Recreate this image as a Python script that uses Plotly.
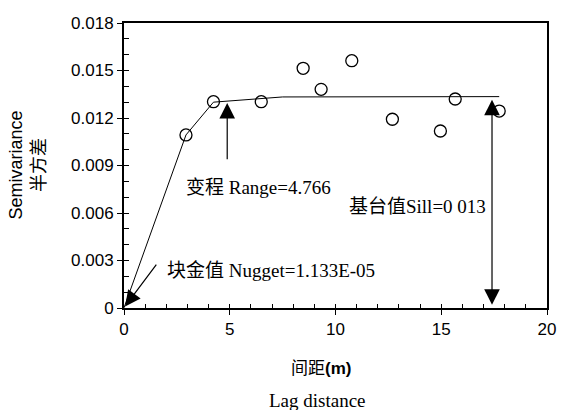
import plotly.graph_objects as go

# Data
lag = [2.93, 4.23, 6.49, 8.47, 9.32, 10.77, 12.69, 14.96, 15.66, 17.74]
gamma = [0.01093, 0.01303, 0.01303, 0.01514, 0.01381, 0.01562, 0.01192, 0.01118, 0.0132, 0.01244]
model_h = [0.0, 2.93, 4.23, 5.0, 6.5, 7.5, 17.74]
model_g = [0.0000113, 0.01093, 0.01300, 0.01308, 0.01320, 0.01333, 0.01335]
x_ticks = [0, 5, 10, 15, 20]
y_ticks = [0, 0.003, 0.006, 0.009, 0.012, 0.015, 0.018]
y_tick_labels = ["0", "0.003", "0.006", "0.009", "0.012", "0.015", "0.018"]

SERIF = "Liberation Serif, Times New Roman, Noto Sans CJK SC, serif"
SANS = "Liberation Sans, Arial, Noto Sans CJK SC, sans-serif"

fig = go.Figure()
fig.add_trace(go.Scatter(x=model_h, y=model_g, mode="lines",
                         line=dict(color="black", width=1), showlegend=False))
fig.add_trace(go.Scatter(x=lag, y=gamma, mode="markers",
                         marker=dict(symbol="circle-open", size=12, color="black",
                                     line=dict(width=1.3)), showlegend=False))
# invisible trace so the overlay axes (inside ticks) are drawn
fig.add_trace(go.Scatter(x=[0], y=[0], xaxis="x2", yaxis="y2", mode="markers",
                         marker=dict(opacity=0), showlegend=False, hoverinfo="skip"))

fig.update_layout(
    width=568, height=410,
    margin=dict(l=124, r=13, t=23, b=102),
    plot_bgcolor="white", paper_bgcolor="white",
    xaxis=dict(range=[0, 20], tickvals=x_ticks, ticks="outside", ticklen=5,
               showline=True, mirror=True, linecolor="black", linewidth=2,
               showgrid=False, zeroline=False, tickcolor="black",
               tickfont=dict(family=SANS, size=17, color="black")),
    yaxis=dict(range=[0, 0.018], tickvals=y_ticks, ticktext=y_tick_labels, ticks="outside",
               ticklen=5, showline=True, mirror=True, linecolor="black", linewidth=2,
               showgrid=False, zeroline=False, tickcolor="black",
               tickfont=dict(family=SANS, size=17, color="black")),
    xaxis2=dict(range=[0, 20], overlaying="x", anchor="y2", dtick=1, tick0=0,
                ticks="inside", ticklen=4, showticklabels=False, showgrid=False,
                zeroline=False, showline=False, tickcolor="black"),
    yaxis2=dict(range=[0, 0.018], overlaying="y", anchor="x2", dtick=0.001, tick0=0,
                ticks="inside", ticklen=5, showticklabels=False, showgrid=False,
                zeroline=False, showline=False, tickcolor="black"),
)

arrow_style = dict(showarrow=True, arrowcolor="black", arrowhead=2, arrowsize=2.6,
                   arrowwidth=1.2, axref="x", ayref="y", xref="x", yref="y", text="")
annotations = [
    dict(x=4.88, y=0.01295, ax=4.88, ay=0.0093, **arrow_style),
    dict(x=0.05, y=0.0001, ax=1.58, ay=0.00284, **arrow_style),
    dict(x=17.4, y=0.0002, ax=17.4, ay=0.01325, arrowside="end+start",
         startarrowhead=2, startarrowsize=2.6, **arrow_style),
    dict(x=6.38, y=0.00764, xref="x", yref="y", showarrow=False,
         text="变程 Range=4.766", font=dict(family=SERIF, size=19, color="black")),
    dict(x=17.2, y=0.00638, xref="x", yref="y", showarrow=False, xanchor="right",
         text="基台值Sill=0 013", font=dict(family=SERIF, size=19, color="black")),
    dict(x=6.96, y=0.0024, xref="x", yref="y", showarrow=False,
         text="块金值 Nugget=1.133E-05", font=dict(family=SERIF, size=19, color="black")),
    dict(x=0, y=0.5, xref="paper", yref="paper", xanchor="center", yanchor="middle",
         xshift=-97, yshift=0, showarrow=False, textangle=-90,
         text="Semivariance<br>半方差", font=dict(family=SANS, size=18, color="black")),
    dict(x=0.5, y=0, xref="paper", yref="paper", xanchor="center", yanchor="middle",
         yshift=-60, xshift=-15, showarrow=False,
         text="间距<b>(m)</b>", font=dict(family=SANS, size=17, color="black")),
    dict(x=0.5, y=0, xref="paper", yref="paper", xanchor="center", yanchor="middle",
         yshift=-92, xshift=-18, showarrow=False,
         text="Lag distance", font=dict(family=SERIF, size=19, color="black")),
]
fig.update_layout(annotations=annotations)

fig.write_html("out.html")
